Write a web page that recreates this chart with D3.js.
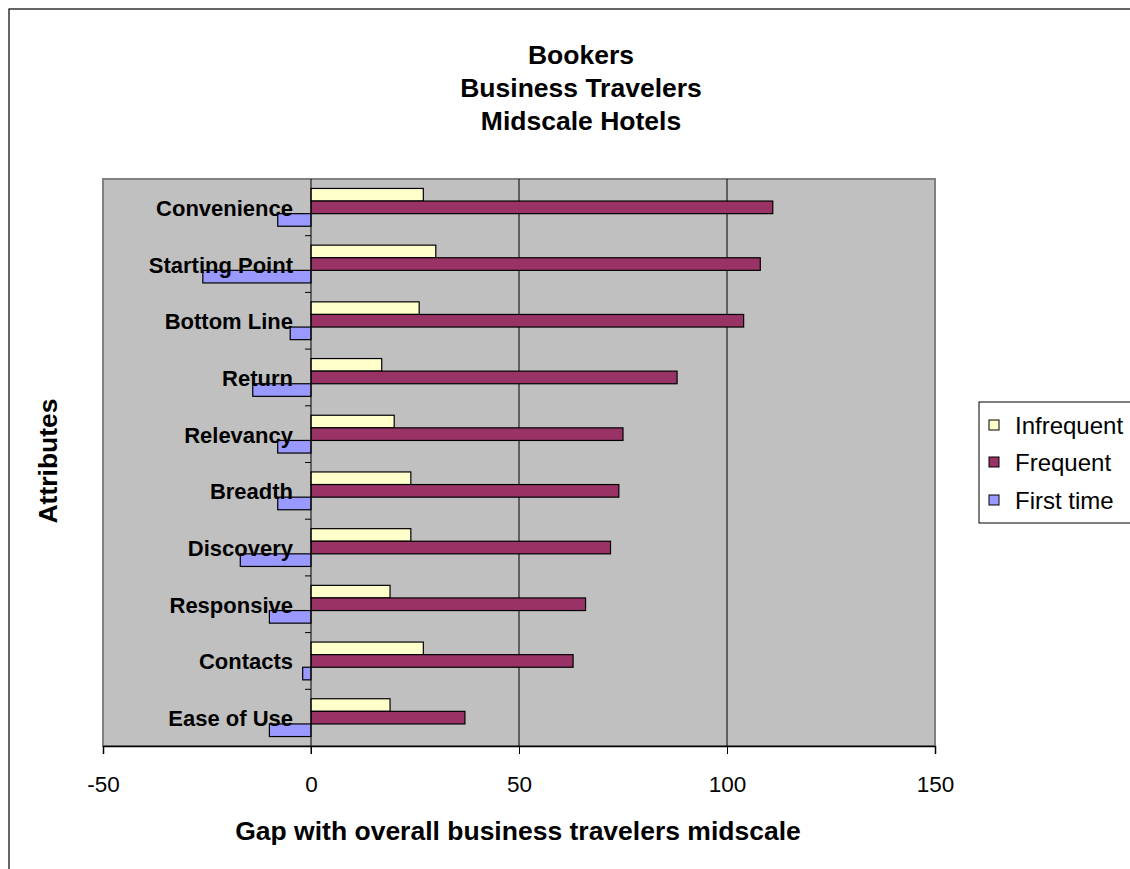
<!DOCTYPE html>
<html>
<head>
<meta charset="utf-8">
<script src="https://cdn.jsdelivr.net/npm/d3@7"></script>
<style>
  html, body { margin: 0; padding: 0; background: #fff; }
  svg { display: block; font-family: "Liberation Sans", Arial, sans-serif; }
</style>
</head>
<body>
<svg id="chart" width="1130" height="869"></svg>
<script>
const categories = ["Convenience", "Starting Point", "Bottom Line", "Return", "Relevancy",
                    "Breadth", "Discovery", "Responsive", "Contacts", "Ease of Use"];
const seriesNames = ["Infrequent", "Frequent", "First time"];
const infrequent = [27, 30, 26, 17, 20, 24, 24, 19, 27, 19];
const frequent   = [111, 108, 104, 88, 75, 74, 72, 66, 63, 37];
const firstTime  = [-8, -26, -5, -14, -8, -8, -17, -10, -2, -10];
const seriesColors = ["#FFFFCC", "#993366", "#9999FF"];
const xTicks = [-50, 0, 50, 100, 150];
const titleLines = ["Bookers", "Business Travelers", "Midscale Hotels"];
const xTitle = "Gap with overall business travelers midscale";
const yTitle = "Attributes";

const seriesValues = [infrequent, frequent, firstTime];

const svg = d3.select("#chart");
const plot = { left: 103, right: 935, top: 179, bottom: 746 };

// outer chart border
svg.append("rect").attr("x", 9).attr("y", 9).attr("width", 1140).attr("height", 880)
  .attr("fill", "#fff").attr("stroke", "#000").attr("stroke-width", 1.2);

const x = d3.scaleLinear().domain([-50, 150]).range([plot.left, plot.right]);
const y = d3.scaleBand().domain(categories).range([plot.top, plot.bottom])
  .paddingInner(1/3).paddingOuter(1/6);
const ys = d3.scaleBand().domain(seriesNames).range([0, y.bandwidth()]);

// plot background
svg.append("rect").attr("x", plot.left).attr("y", plot.top)
  .attr("width", plot.right - plot.left).attr("height", plot.bottom - plot.top)
  .attr("fill", "#C0C0C0").attr("stroke", "#808080").attr("stroke-width", 2);

// gridlines
svg.append("g").selectAll("line").data(xTicks.filter(t => t > 0 && t < 150)).join("line")
  .attr("x1", d => x(d)).attr("x2", d => x(d))
  .attr("y1", plot.top).attr("y2", plot.bottom)
  .attr("stroke", "#000").attr("stroke-width", 1);

// bars
const step = y.step();
categories.forEach((c, i) => {
  seriesNames.forEach((s, j) => {
    const v = seriesValues[j][i];
    svg.append("rect")
      .attr("x", x(Math.min(0, v)))
      .attr("y", y(c) + ys(s))
      .attr("width", Math.abs(x(v) - x(0)))
      .attr("height", ys.bandwidth())
      .attr("fill", seriesColors[j])
      .attr("stroke", "#000").attr("stroke-width", 1.2);
  });
});

// category axis at zero
const yAxisG = svg.append("g");
yAxisG.append("line").attr("x1", x(0)).attr("x2", x(0))
  .attr("y1", plot.top).attr("y2", plot.bottom + 8)
  .attr("stroke", "#000").attr("stroke-width", 1);
const boundaries = d3.range(1, categories.length).map(k => plot.top + k * step);
yAxisG.selectAll("line.tk").data(boundaries).join("line").attr("class", "tk")
  .attr("x1", x(0) - 6).attr("x2", x(0)).attr("y1", d => d).attr("y2", d => d)
  .attr("stroke", "#000").attr("stroke-width", 1);
yAxisG.selectAll("text").data(categories).join("text")
  .attr("x", 293).attr("y", d => y(d) + y.bandwidth() / 2 + 8.5)
  .attr("text-anchor", "end")
  .attr("font-size", 22).attr("font-weight", "bold").attr("fill", "#000")
  .text(d => d);

// x axis
const xAxisG = svg.append("g").attr("transform", `translate(0,${plot.bottom})`)
  .call(d3.axisBottom(x).tickValues(xTicks).tickSize(8).tickPadding(0).tickFormat(d => String(d)));
xAxisG.select(".domain").attr("stroke", "#000").attr("stroke-width", 1.5);
xAxisG.selectAll(".tick line").attr("stroke", "#000");
xAxisG.selectAll(".tick text").attr("font-size", 22.5).attr("fill", "#000")
  .attr("dy", null).attr("y", 46)
  .attr("font-family", "'Liberation Sans', Arial, sans-serif");

// titles
svg.append("g").selectAll("text").data(titleLines).join("text")
  .attr("x", 581).attr("y", (d, i) => 63.5 + i * 33)
  .attr("text-anchor", "middle").attr("font-size", 26.5).attr("font-weight", "bold")
  .text(d => d);

svg.append("text").attr("x", 518).attr("y", 840).attr("text-anchor", "middle")
  .attr("font-size", 26.5).attr("font-weight", "bold").text(xTitle);

svg.append("text").attr("transform", "translate(57,461) rotate(-90)")
  .attr("text-anchor", "middle").attr("font-size", 26.5).attr("font-weight", "bold").text(yTitle);

// legend
const lg = svg.append("g");
lg.append("rect").attr("x", 979).attr("y", 402).attr("width", 200).attr("height", 121)
  .attr("fill", "#fff").attr("stroke", "#000").attr("stroke-width", 1);
const lgRowY = [425, 462, 500];
seriesNames.forEach((s, j) => {
  lg.append("rect").attr("x", 989).attr("y", lgRowY[j] - 5).attr("width", 10).attr("height", 10)
    .attr("fill", seriesColors[j]).attr("stroke", "#000").attr("stroke-width", 1);
  lg.append("text").attr("x", 1015).attr("y", lgRowY[j] + 8.5)
    .attr("font-size", 24).text(s);
});
</script>
</body>
</html>
